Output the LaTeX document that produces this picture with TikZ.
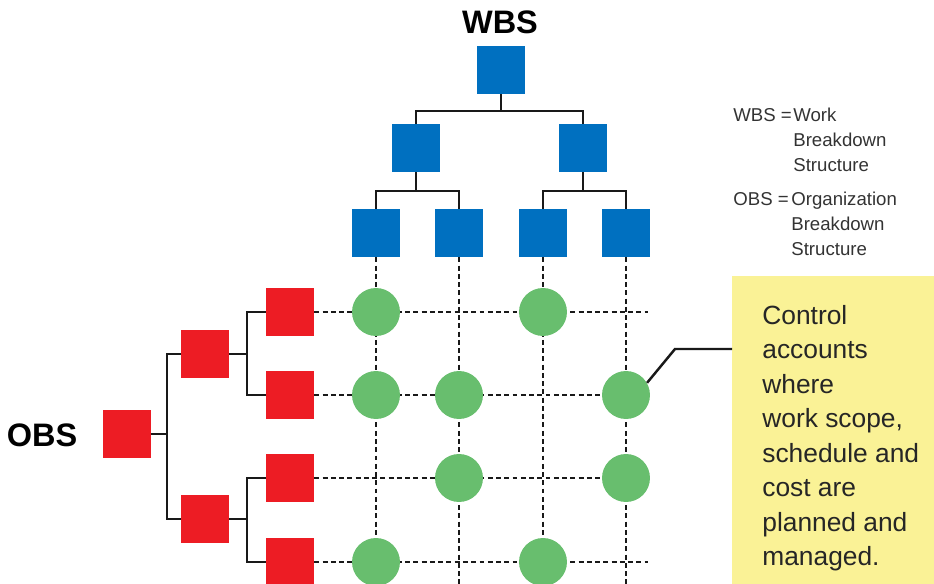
\documentclass[tikz,border=0pt]{standalone}
\usepackage{fontspec}
\setmainfont{Liberation Sans}
\usepackage{tikz}
\usetikzlibrary{positioning}
\definecolor{wbsblue}{RGB}{0,112,192}
\definecolor{obsred}{RGB}{237,28,36}
\definecolor{cagreen}{RGB}{104,190,110}
\definecolor{noteyellow}{RGB}{250,242,150}

\begin{document}
\begin{tikzpicture}[x=0.02cm,y=-0.02cm,
		wbsbox/.style={fill=wbsblue, minimum size=0.96cm, inner sep=0pt},
		obsbox/.style={fill=obsred, minimum size=0.96cm, inner sep=0pt},
		account/.style={circle, fill=cagreen, minimum size=0.96cm, inner sep=0pt},
		tree/.style={line width=1.4pt, black!90},
		gridline/.style={line width=1.4pt, dash pattern=on 2.8pt off 1.9pt, black!90},
		title/.style={font=\bfseries\fontsize{18.5}{22}\selectfont, inner sep=0pt},
		legend/.style={font=\fontsize{10.6}{14.2}\selectfont, align=left, anchor=north west, inner sep=0pt, text=black!80}]
		\useasboundingbox (0,0) rectangle (934,584);
		% WBS tree
		\node[title] (wbstitle) at (500,22) {WBS};
		\node[wbsbox] (w0) at (501,70) {};
		\node[wbsbox] (w1) at (416,148) {};
		\node[wbsbox] (w2) at (583,148) {};
		\node[wbsbox] (w11) at (376,233) {};
		\node[wbsbox] (w12) at (459,233) {};
		\node[wbsbox] (w21) at (543,233) {};
		\node[wbsbox] (w22) at (626,233) {};
		\coordinate (wj0) at (501,111);
		\coordinate (wj1) at (416,191);
		\coordinate (wj2) at (583,191);
		\draw[tree] (w0.south) -- (wj0);
		\draw[tree] (w1.north) |- (wj0) -| (w2.north);
		\draw[tree] (w1.south) -- (wj1);
		\draw[tree] (w11.north) |- (wj1) -| (w12.north);
		\draw[tree] (w2.south) -- (wj2);
		\draw[tree] (w21.north) |- (wj2) -| (w22.north);
		% OBS tree
		\node[title] (obstitle) at (42,435) {OBS};
		\node[obsbox] (o0) at (127,434) {};
		\node[obsbox] (o1) at (205,354) {};
		\node[obsbox] (o2) at (205,519) {};
		\node[obsbox] (o11) at (290,312) {};
		\node[obsbox] (o12) at (290,395) {};
		\node[obsbox] (o21) at (290,478) {};
		\node[obsbox] (o22) at (290,562) {};
		\coordinate (oj0) at (167,434);
		\coordinate (oj1) at (247,354);
		\coordinate (oj2) at (247,519);
		\draw[tree] (o0.east) -- (oj0);
		\draw[tree] (o1.west) -| (oj0) |- (o2.west);
		\draw[tree] (o1.east) -- (oj1);
		\draw[tree] (o11.west) -| (oj1) |- (o12.west);
		\draw[tree] (o2.east) -- (oj2);
		\draw[tree] (o21.west) -| (oj2) |- (o22.west);
		% dotted grid
		\coordinate (bottom) at (0,584);
		\coordinate (gridend) at (648,0);
		\foreach \b in {w11,w12,w21,w22}
			\draw[gridline] (\b.south) -- (\b.south |- bottom);
		\foreach \r in {o11,o12,o21,o22}
			\draw[gridline] (\r.east) -- (\r.east -| gridend);
		% control accounts
		\node[account] (c11) at (376,312) {};
		\node[account] (c13) at (543,312) {};
		\node[account] (c21) at (376,395) {};
		\node[account] (c22) at (459,395) {};
		\node[account] (c24) at (626,395) {};
		\node[account] (c32) at (459,478) {};
		\node[account] (c34) at (626,478) {};
		\node[account] (c41) at (376,562) {};
		\node[account] (c43) at (543,562) {};
		% legend
		\node[legend] (wbsabbr) at (733,108) {WBS =};
		\node[legend] (wbsfull) at (793,108) {Work\\Breakdown\\Structure};
		\node[legend] (obsabbr) at (733,192) {OBS =};
		\node[legend] (obsfull) at (791,192) {Organization\\Breakdown\\Structure};
		% note
		\node[fill=noteyellow, anchor=north west, minimum width=4.04cm, minimum height=6.16cm, inner sep=0pt] (notebox) at (732,276) {};
		\node[anchor=north west, inner sep=0pt, align=left, font=\fontsize{15}{19.6}\selectfont, text=black!85] (notetext) at (762,305)
			{Control\\accounts\\where\\work scope,\\schedule and\\cost are\\planned and\\managed.};
		\coordinate (kink) at (675,349);
		\draw[tree] (c24.30) -- (kink) -- (kink -| notebox.west);
	\end{tikzpicture}
\end{document}
